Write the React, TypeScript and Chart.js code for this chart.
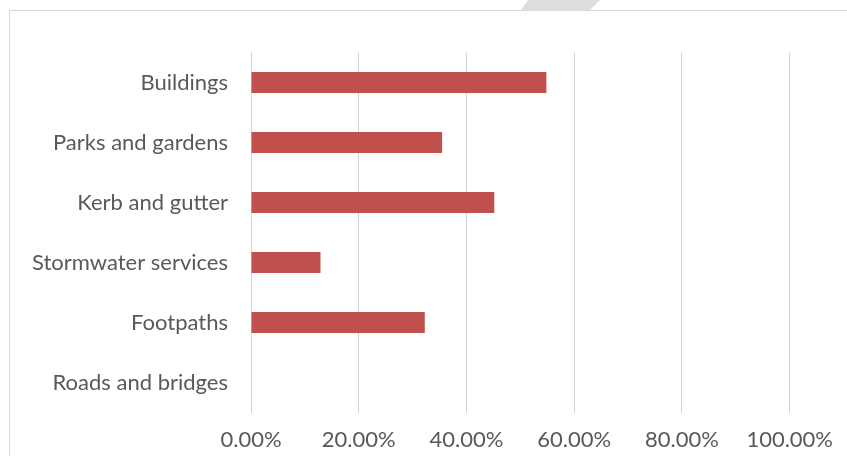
import { useEffect, useRef } from "react";
import { Chart, registerables } from "chart.js";

Chart.register(...registerables);

const categories = [
  "Buildings",
  "Parks and gardens",
  "Kerb and gutter",
  "Stormwater services",
  "Footpaths",
  "Roads and bridges",
];
const values = [54.84, 35.48, 45.16, 12.9, 32.26, 0];
const xMin = 0;
const xMax = 100;
const xStep = 20;

const FONT = { family: "Lato, 'Open Sans', sans-serif", size: 22 };
const TEXT = "#595959";
const GRID = "#D9D9D9";

export default function App() {
  const ref = useRef<HTMLCanvasElement>(null);
  useEffect(() => {
    document.body.style.margin = "0";
    const chart = new Chart(ref.current!, {
      type: "bar",
      data: {
        labels: categories,
        datasets: [
          {
            data: values,
            backgroundColor: "#C0504D",
            borderWidth: 0,
            categoryPercentage: 1,
            barPercentage: 0.35,
          },
        ],
      },
      options: {
        indexAxis: "y",
        responsive: false,
        animation: false,
        layout: { padding: { top: 52.5, right: 57, bottom: 0, left: 0 } },
        plugins: { legend: { display: false }, tooltip: { enabled: false } },
        scales: {
          x: {
            min: xMin,
            max: xMax,
            ticks: {
              stepSize: xStep,
              callback: (v: any) => Number(v).toFixed(2) + "%",
              color: TEXT,
              font: FONT,
              padding: 14,
              maxRotation: 0,
            },
            grid: { color: "#D3D3D3", lineWidth: 1, drawTicks: false },
            border: { display: false },
            afterFit: (s: any) => {
              s.height = 43.5;
            },
          },
          y: {
            ticks: { color: TEXT, font: FONT, padding: 23 },
            grid: { display: false, drawTicks: false },
            border: { display: false },
            afterFit: (s: any) => {
              s.width = 251;
            },
          },
        },
      },
    });
    return () => chart.destroy();
  }, []);

  return (
    <div
      style={{
        position: "relative",
        width: 847,
        height: 456,
        overflow: "hidden",
        background: "#fff",
      }}
    >
      <div
        style={{
          position: "absolute",
          left: 0,
          top: 0,
          width: 847,
          height: 11,
          background: "#DDDDDD",
          clipPath: "polygon(528px 0, 600px 0, 590px 10px, 521px 10px)",
        }}
      />
      <div
        style={{
          position: "absolute",
          left: 9,
          top: 10,
          width: 900,
          height: 500,
          border: `1px solid ${GRID}`,
        }}
      />
      <canvas
        ref={ref}
        width={847}
        height={456}
        style={{ position: "absolute", left: 0, top: 0 }}
      />
    </div>
  );
}
